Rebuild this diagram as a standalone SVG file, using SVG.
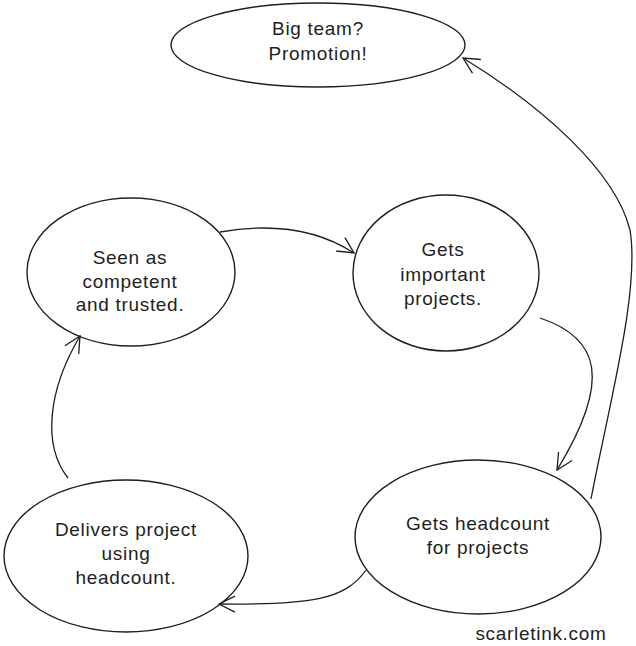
<svg xmlns="http://www.w3.org/2000/svg" width="636" height="646" viewBox="0 0 636 646">
<style>
.n{fill:none;stroke:#1e1e1e;stroke-width:1.4}
.t{font-family:"Liberation Sans","DejaVu Sans",sans-serif;font-size:19px;letter-spacing:0.7px;fill:#1e1e1e;text-anchor:middle}
.c{fill:none;stroke:#1e1e1e;stroke-width:1.3;marker-end:url(#ah)}
</style>
<defs>
<marker id="ah" viewBox="0 0 20 20" refX="18" refY="10" markerWidth="20" markerHeight="20" markerUnits="userSpaceOnUse" orient="auto">
<path d="M2,2 L18,10 L2,18" fill="none" stroke="#1e1e1e" stroke-width="1.3"/>
</marker>
</defs>
<rect width="636" height="646" fill="#ffffff"/>
<g id="connectors">
<path class="c" d="M220,232 Q300,218 354,253"/>
<path class="c" d="M540,318 C600,338 612,380 557,470"/>
<path class="c" d="M591,499 C610,400 640,290 630,230 C615,170 540,105 463,58"/>
<path class="c" d="M366,570 C345,600 310,605 219,604"/>
<path class="c" d="M68,478 C42,445 48,390 80,336"/>
</g>
<g id="big-team">
<ellipse class="n" cx="318" cy="45" rx="147" ry="42"/>
<text class="t" x="318" y="35">Big team?</text>
<text class="t" x="318" y="60">Promotion!</text>
</g>
<g id="seen-as">
<ellipse class="n" cx="131" cy="272" rx="104" ry="74"/>
<text class="t" x="130" y="264">Seen as</text>
<text class="t" x="130" y="288">competent</text>
<text class="t" x="130" y="311">and trusted.</text>
</g>
<g id="gets-important">
<ellipse class="n" cx="446" cy="273" rx="93" ry="78"/>
<text class="t" x="443" y="256">Gets</text>
<text class="t" x="443" y="281">important</text>
<text class="t" x="443" y="305">projects.</text>
</g>
<g id="gets-headcount">
<ellipse class="n" cx="478" cy="537" rx="123" ry="77"/>
<text class="t" x="478" y="530">Gets headcount</text>
<text class="t" x="478" y="554">for projects</text>
</g>
<g id="delivers">
<ellipse class="n" cx="126" cy="556" rx="122" ry="76"/>
<text class="t" x="126" y="536">Delivers project</text>
<text class="t" x="126" y="560">using</text>
<text class="t" x="126" y="584">headcount.</text>
</g>
<text class="t" x="541" y="640">scarletink.com</text>
</svg>
